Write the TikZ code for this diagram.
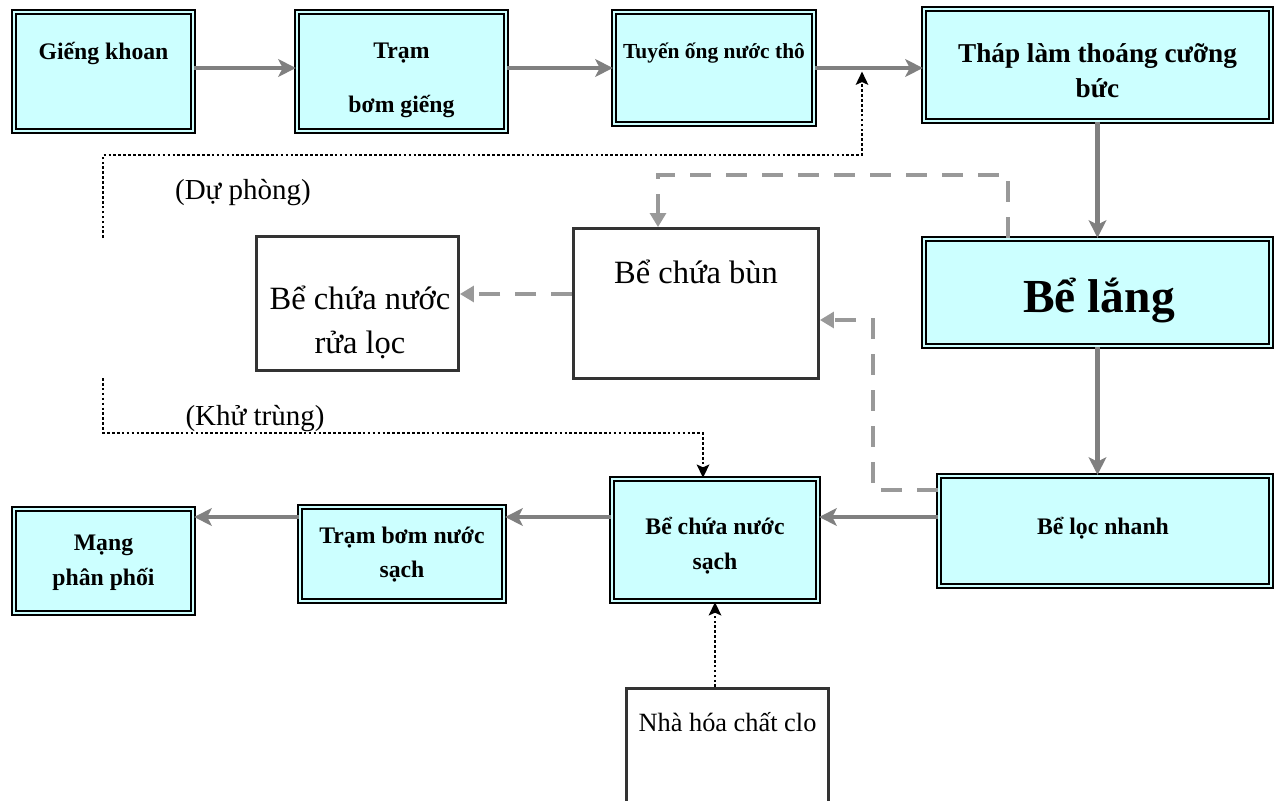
\documentclass[tikz,border=0pt]{standalone}
\usepackage{fontspec}
\setmainfont{Liberation Serif}
\usepackage{xcolor}
\usepackage{tikz}
\usetikzlibrary{arrows.meta}
\definecolor{boxcyan}{HTML}{CCFFFF}
\definecolor{pipegray}{HTML}{808080}
\definecolor{mudgray}{HTML}{999999}
\definecolor{framegray}{HTML}{333333}

\begin{document}
\begin{tikzpicture}[x=0.02cm,y=-0.02cm,
  unit/.style={draw=black,line width=1.3pt,double=boxcyan,double distance=1.1pt,fill=boxcyan,inner sep=0pt},
  tank/.style={draw=framegray,line width=1.6pt,fill=white,inner sep=0pt},
  lbl/.style={align=center,font=\bfseries\fontsize{13.5}{16}\selectfont},
  txt/.style={align=center,font=\fontsize{18.5}{22}\selectfont},
  flow/.style={-{Stealth[length=10pt,width=10pt,inset=2.5pt]},draw=pipegray,line width=2.3pt},
  sludge/.style={-{Triangle[length=8pt,width=9pt]},draw=mudgray,line width=2.2pt,dash pattern=on 12pt off 8.5pt},
  aux/.style={-{Stealth[length=7.5pt,width=7pt,inset=1.5pt]},line width=1.6pt,dash pattern=on 1.5pt off 1.3pt}]
  \useasboundingbox (0,0) rectangle (1278,801);
  \node[unit,minimum width=3.58cm,minimum height=2.38cm] (gk) at (103.5,71.5) {};
  \node[unit,minimum width=4.18cm,minimum height=2.38cm] (tb) at (401.5,71.5) {};
  \node[unit,minimum width=4.0cm,minimum height=2.24cm] (to) at (714,68) {};
  \node[unit,minimum width=6.94cm,minimum height=2.24cm] (tl) at (1097.5,65) {};
  \node[unit,minimum width=6.94cm,minimum height=2.14cm] (bl) at (1097.5,292.5) {};
  \node[unit,minimum width=6.64cm,minimum height=2.2cm] (ln) at (1105,531) {};
  \node[unit,minimum width=4.12cm,minimum height=2.44cm] (cs) at (715,540) {};
  \node[unit,minimum width=4.08cm,minimum height=1.88cm] (bs) at (402,554) {};
  \node[unit,minimum width=3.58cm,minimum height=2.08cm] (mp) at (103.5,561) {};
  \node[tank,minimum width=4.9cm,minimum height=3.0cm] (bb) at (696,303.5) {};
  \node[tank,minimum width=4.04cm,minimum height=2.68cm] (rl) at (357.5,303.5) {};
  \node[tank,minimum width=4.04cm,minimum height=2.82cm] (cl) at (727.5,759) {};

  \node[lbl] (gk-t) at (103.5,53) {Giếng khoan};
  \node[lbl] (tb-t) at (401.5,80.5) {Trạm\\[15pt]bơm giếng};
  \node[lbl,font=\bfseries\fontsize{12.2}{14.6}\selectfont] (to-t) at (714,53) {Tuyến ống nước thô};
  \node[lbl,font=\bfseries\fontsize{15.5}{18.6}\selectfont] (tl-t) at (1097.5,70.5) {Tháp làm thoáng cưỡng\\[1pt]bức};
  \node[lbl,font=\bfseries\fontsize{27}{32}\selectfont] (bl-t) at (1099,300) {Bể lắng};
  \node[lbl] (ln-t) at (1103,528) {Bể lọc nhanh};
  \node[lbl] (cs-t) at (715,545.5) {Bể chứa nước\\[3.8pt]sạch};
  \node[lbl] (bs-t) at (402,554.5) {Trạm bơm nước\\[3.8pt]sạch};
  \node[lbl] (mp-t) at (103.5,562.5) {Mạng\\[3.8pt]phân phối};
  \node[txt] (bb-t) at (696,272) {Bể chứa bùn};
  \node[txt] (rl-t) at (360,322.5) {Bể chứa nước\\[3.5pt]rửa lọc};
  \node[txt,font=\fontsize{15}{18}\selectfont] (cl-t) at (727.5,722) {Nhà hóa chất clo};
  \node[txt,font=\fontsize{16.5}{20}\selectfont] (dp-t) at (243,193) {(Dự phòng)};
  \node[txt,font=\fontsize{16.5}{20}\selectfont] (kt-t) at (255,419) {(Khử trùng)};

  \coordinate (toprow) at (0,68);
  \coordinate (botrow) at (0,517);
  \draw[flow] (gk.east |- toprow) -- (tb.west |- toprow);
  \draw[flow] (tb.east |- toprow) -- (to.west |- toprow);
  \draw[flow] (to.east |- toprow) -- (tl.west |- toprow);
  \draw[flow] (tl.south) -- (bl.north);
  \draw[flow] (bl.south) -- (bl.south |- ln.north);
  \draw[flow] (ln.west |- botrow) -- (cs.east |- botrow);
  \draw[flow] (cs.west |- botrow) -- (bs.east |- botrow);
  \draw[flow] (bs.west |- botrow) -- (mp.east |- botrow);

  \coordinate (db1) at (1008,175);
  \coordinate (db2) at (658,175);
  \coordinate (wash) at (0,294);
  \coordinate (lb1) at (873,490);
  \coordinate (lb2) at (873,320);
  \draw[sludge] (db1 |- bl.north) -- (db1) -- (db2) -- (db2 |- bb.north);
  \draw[sludge] (bb.west |- wash) -- (rl.east |- wash);
  \draw[sludge] (lb1 -| ln.west) -- (lb1) -- (lb2) -- (lb2 -| bb.east);

  \coordinate (dp1) at (103,238);
  \coordinate (dp2) at (862,155);
  \coordinate (kt1) at (103,378);
  \coordinate (kt2) at (703,433);
  \draw[aux,shorten >=2pt] (dp1) |- (dp2) -- (dp2 |- toprow);
  \draw[aux] (kt1) |- (kt2) -- (kt2 |- cs.north);
  \draw[aux] (cl.north -| cs.south) -- (cs.south);
\end{tikzpicture}
\end{document}
